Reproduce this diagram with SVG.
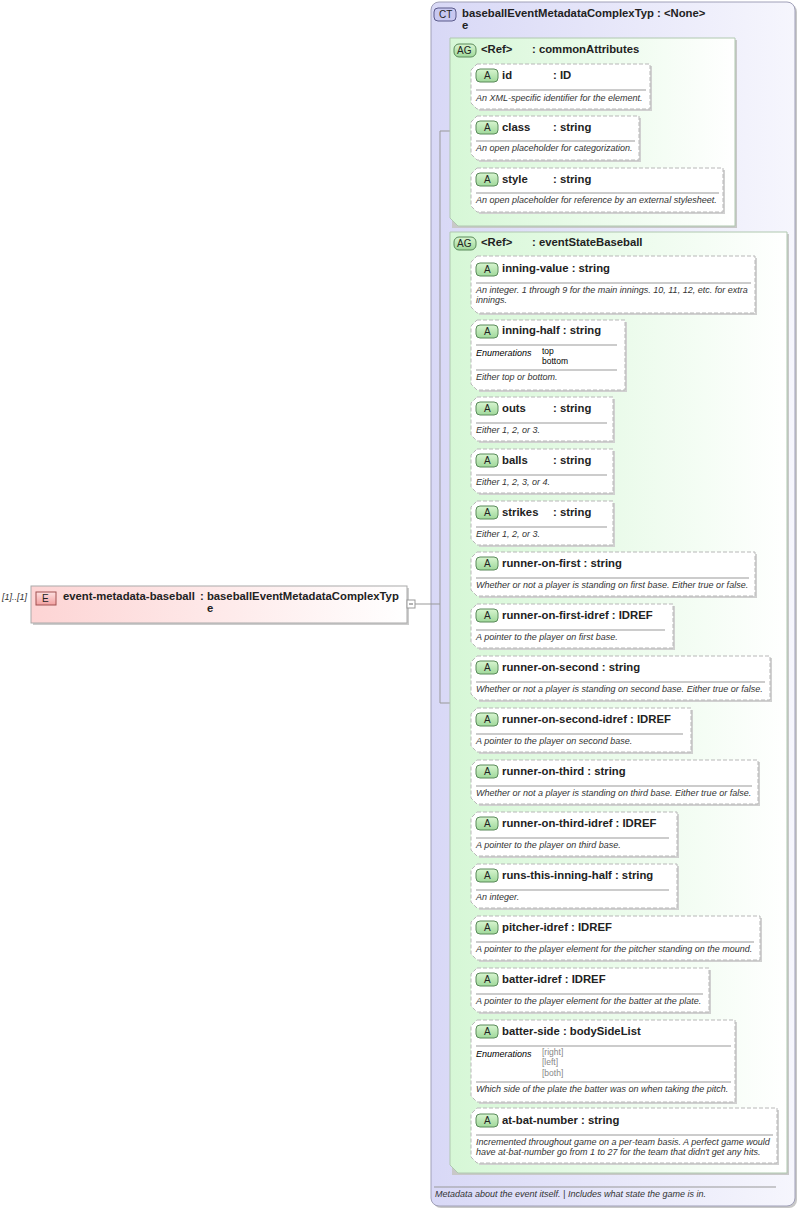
<svg xmlns="http://www.w3.org/2000/svg" width="800" height="1209" viewBox="0 0 800 1209">
<defs>
<linearGradient id="gCT" x1="0" y1="0" x2="1" y2="0"><stop offset="0" stop-color="#d8d8f6"/><stop offset="1" stop-color="#f6f6fd"/></linearGradient>
<linearGradient id="gAG" x1="0" y1="0" x2="1" y2="0"><stop offset="0" stop-color="#d6f7d6"/><stop offset="1" stop-color="#ffffff"/></linearGradient>
<linearGradient id="gE" x1="0" y1="0" x2="1" y2="0"><stop offset="0" stop-color="#fdd4d4"/><stop offset="1" stop-color="#ffffff"/></linearGradient>
<linearGradient id="gA" x1="0" y1="0" x2="0" y2="1"><stop offset="0" stop-color="#d8f5d0"/><stop offset="1" stop-color="#9fd89a"/></linearGradient>
<linearGradient id="gEb" x1="0" y1="0" x2="0" y2="1"><stop offset="0" stop-color="#fde0e0"/><stop offset="1" stop-color="#f2a0a0"/></linearGradient>
</defs>
<style>
text{font-family:"Liberation Sans",Arial,sans-serif;fill:#222}
.b{font-weight:bold;font-size:11.3px}
.d{font-style:italic;font-size:9px;fill:#333}
.en{font-size:8.5px;fill:#000}
.eg{font-size:8.5px;fill:#888}
.badge{font-size:10px;fill:#222}
.card{fill:#fff;stroke:#b8b8b8;stroke-dasharray:4,2;stroke-width:1}
.sh{fill:#d0d0d0}
.sep{stroke:#999;stroke-width:1}
.con{stroke:#999;fill:none;stroke-width:1}
.abadge{fill:url(#gA);stroke:#5a8a5a}
</style>

<g id="ct">
<rect x="433" y="4" width="364" height="1204" rx="8" fill="#c8c8c8"/>
<rect x="431" y="2" width="364" height="1204" rx="8" fill="url(#gCT)" stroke="#a0a0b8"/>
<rect x="434" y="8" width="22" height="13" rx="4" fill="#c8c8f0" stroke="#5a5a8a"/>
<text x="439" y="18" class="badge">CT</text>
<text x="462" y="17" class="b">baseballEventMetadataComplexTyp : &lt;None&gt;</text>
<text x="462" y="29" class="b">e</text>
<line x1="434" y1="1187" x2="776" y2="1187" class="sep"/>
<text x="435" y="1197" class="d">Metadata about the event itself. | Includes what state the game is in.</text>
</g>

<g id="element">
<text x="2" y="600" class="d">[1]..[1]</text>
<rect x="33" y="588" width="376" height="37" fill="#ccc"/>
<rect x="31" y="586" width="376" height="37" fill="url(#gE)" stroke="#aaa"/>
<rect x="36" y="592" width="20" height="13" fill="url(#gEb)" stroke="#a05050"/>
<text x="42" y="602" class="badge">E</text>
<text x="63" y="600" class="b">event-metadata-baseball</text>
<text x="200" y="600" class="b">: baseballEventMetadataComplexTyp</text>
<text x="207" y="612" class="b">e</text>
<rect x="407" y="600" width="8" height="8" fill="#fff" stroke="#999"/>
<line x1="409" y1="604" x2="413" y2="604" stroke="#666"/>
</g>

<g id="connectors">
<path class="con" d="M415 604H440M440 131V703M440 131H450M440 703H450"/>
<path class="con" d="M460 87V189M460 87H471M460 139H471M460 189H471"/>
<path class="con" d="M460 287V1137M460 287H471M460 355H471M460 419H471M460 471H471M460 523H471M460 574H471M460 626H471M460 678H471M460 730H471M460 782H471M460 834H471M460 886H471M460 938H471M460 990H471M460 1061H471M460 1137H471"/>
</g>

<g id="ag-common">
<rect x="452" y="40" width="285" height="188" fill="#c8c8c8"/>
<path d="M450 38H735V226H458L450 218Z" fill="url(#gAG)" stroke="#b0c8b0"/>
<rect x="454" y="44" width="22" height="13" rx="5" fill="url(#gA)" stroke="#5a8a5a"/>
<text x="457" y="54" class="badge">AG</text>
<text x="481" y="53" class="b">&lt;Ref&gt;</text>
<text x="532" y="53" class="b">: commonAttributes</text>
</g>

<g id="ag-event">
<rect x="452" y="234" width="337" height="941" fill="#c8c8c8"/>
<path d="M450 232H787V1173H458L450 1165Z" fill="url(#gAG)" stroke="#b0c8b0"/>
<rect x="454" y="237" width="22" height="13" rx="5" fill="url(#gA)" stroke="#5a8a5a"/>
<text x="457" y="247" class="badge">AG</text>
<text x="481" y="246" class="b">&lt;Ref&gt;</text>
<text x="532" y="246" class="b">: eventStateBaseball</text>
</g>

<g id="a-id"><path class="sh" d="M479 66H652V111H479Z"/><path class="card" d="M477 64H650V109H477L471 103V70Z"/><rect class="abadge" x="476" y="69" width="22" height="13" rx="4"/><text x="484" y="79" class="badge">A</text><text x="502" y="79" class="b">id</text><text x="553" y="79" class="b">: ID</text><line class="sep" x1="476" y1="90" x2="646" y2="90"/><text x="476" y="101" class="d">An XML-specific identifier for the element.</text></g>
<g id="a-class"><path class="sh" d="M479 118H641V162H479Z"/><path class="card" d="M477 116H639V160H477L471 154V122Z"/><rect class="abadge" x="476" y="121" width="22" height="13" rx="4"/><text x="484" y="131" class="badge">A</text><text x="502" y="131" class="b">class</text><text x="553" y="131" class="b">: string</text><line class="sep" x1="476" y1="141" x2="635" y2="141"/><text x="476" y="151" class="d">An open placeholder for categorization.</text></g>
<g id="a-style"><path class="sh" d="M479 170H725V214H479Z"/><path class="card" d="M477 168H723V212H477L471 206V174Z"/><rect class="abadge" x="476" y="173" width="22" height="13" rx="4"/><text x="484" y="183" class="badge">A</text><text x="502" y="183" class="b">style</text><text x="553" y="183" class="b">: string</text><line class="sep" x1="476" y1="193" x2="719" y2="193"/><text x="476" y="203" class="d">An open placeholder for reference by an external stylesheet.</text></g>

<g id="a-inning-value"><path class="sh" d="M479 258H757V315H479Z"/><path class="card" d="M477 256H755V313H477L471 307V262Z"/><rect class="abadge" x="476" y="263" width="22" height="13" rx="4"/><text x="484" y="273" class="badge">A</text><text x="502" y="272" class="b">inning-value : string</text><line class="sep" x1="476" y1="283" x2="751" y2="283"/><text x="476" y="293" class="d">An integer. 1 through 9 for the main innings. 10, 11, 12, etc. for extra</text><text x="476" y="303" class="d">innings.</text></g>
<g id="a-inning-half"><path class="sh" d="M479 322H627V392H479Z"/><path class="card" d="M477 320H625V390H477L471 384V326Z"/><rect class="abadge" x="476" y="325" width="22" height="13" rx="4"/><text x="484" y="335" class="badge">A</text><text x="502" y="334" class="b">inning-half : string</text><line class="sep" x1="476" y1="345" x2="617" y2="345"/><text x="476" y="356" class="d" style="fill:#000">Enumerations</text><text x="542" y="354" class="en">top</text><text x="542" y="364" class="en">bottom</text><line class="sep" x1="476" y1="370" x2="617" y2="370"/><text x="476" y="380" class="d">Either top or bottom.</text></g>
<g id="a-outs"><path class="sh" d="M479 399H615V443H479Z"/><path class="card" d="M477 397H613V441H477L471 435V403Z"/><rect class="abadge" x="476" y="402" width="22" height="13" rx="4"/><text x="484" y="412" class="badge">A</text><text x="502" y="412" class="b">outs</text><text x="553" y="412" class="b">: string</text><line class="sep" x1="476" y1="423" x2="607" y2="423"/><text x="476" y="433" class="d">Either 1, 2, or 3.</text></g>
<g id="a-balls"><path class="sh" d="M479 451H615V495H479Z"/><path class="card" d="M477 449H613V493H477L471 487V455Z"/><rect class="abadge" x="476" y="454" width="22" height="13" rx="4"/><text x="484" y="464" class="badge">A</text><text x="502" y="464" class="b">balls</text><text x="553" y="464" class="b">: string</text><line class="sep" x1="476" y1="475" x2="607" y2="475"/><text x="476" y="485" class="d">Either 1, 2, 3, or 4.</text></g>
<g id="a-strikes"><path class="sh" d="M479 503H615V547H479Z"/><path class="card" d="M477 501H613V545H477L471 539V507Z"/><rect class="abadge" x="476" y="506" width="22" height="13" rx="4"/><text x="484" y="516" class="badge">A</text><text x="502" y="516" class="b">strikes</text><text x="553" y="516" class="b">: string</text><line class="sep" x1="476" y1="527" x2="607" y2="527"/><text x="476" y="537" class="d">Either 1, 2, or 3.</text></g>
<g id="a-runner-on-first"><path class="sh" d="M479 554H757V598H479Z"/><path class="card" d="M477 552H755V596H477L471 590V558Z"/><rect class="abadge" x="476" y="557" width="22" height="13" rx="4"/><text x="484" y="567" class="badge">A</text><text x="502" y="567" class="b">runner-on-first : string</text><line class="sep" x1="476" y1="578" x2="749" y2="578"/><text x="476" y="588" class="d">Whether or not a player is standing on first base. Either true or false.</text></g>
<g id="a-runner-on-first-idref"><path class="sh" d="M479 606H675V650H479Z"/><path class="card" d="M477 604H673V648H477L471 642V610Z"/><rect class="abadge" x="476" y="609" width="22" height="13" rx="4"/><text x="484" y="619" class="badge">A</text><text x="502" y="619" class="b">runner-on-first-idref : IDREF</text><line class="sep" x1="476" y1="630" x2="665" y2="630"/><text x="476" y="640" class="d">A pointer to the player on first base.</text></g>
<g id="a-runner-on-second"><path class="sh" d="M479 658H772V702H479Z"/><path class="card" d="M477 656H770V700H477L471 694V662Z"/><rect class="abadge" x="476" y="661" width="22" height="13" rx="4"/><text x="484" y="671" class="badge">A</text><text x="502" y="671" class="b">runner-on-second : string</text><line class="sep" x1="476" y1="682" x2="765" y2="682"/><text x="476" y="692" class="d">Whether or not a player is standing on second base. Either true or false.</text></g>
<g id="a-runner-on-second-idref"><path class="sh" d="M479 710H693V754H479Z"/><path class="card" d="M477 708H691V752H477L471 746V714Z"/><rect class="abadge" x="476" y="713" width="22" height="13" rx="4"/><text x="484" y="723" class="badge">A</text><text x="502" y="723" class="b">runner-on-second-idref : IDREF</text><line class="sep" x1="476" y1="734" x2="683" y2="734"/><text x="476" y="744" class="d">A pointer to the player on second base.</text></g>
<g id="a-runner-on-third"><path class="sh" d="M479 762H760V806H479Z"/><path class="card" d="M477 760H758V804H477L471 798V766Z"/><rect class="abadge" x="476" y="765" width="22" height="13" rx="4"/><text x="484" y="775" class="badge">A</text><text x="502" y="775" class="b">runner-on-third : string</text><line class="sep" x1="476" y1="786" x2="752" y2="786"/><text x="476" y="796" class="d">Whether or not a player is standing on third base. Either true or false.</text></g>
<g id="a-runner-on-third-idref"><path class="sh" d="M479 814H679V858H479Z"/><path class="card" d="M477 812H677V856H477L471 850V818Z"/><rect class="abadge" x="476" y="817" width="22" height="13" rx="4"/><text x="484" y="827" class="badge">A</text><text x="502" y="827" class="b">runner-on-third-idref : IDREF</text><line class="sep" x1="476" y1="838" x2="669" y2="838"/><text x="476" y="848" class="d">A pointer to the player on third base.</text></g>
<g id="a-runs-this-inning-half"><path class="sh" d="M479 866H679V910H479Z"/><path class="card" d="M477 864H677V908H477L471 902V870Z"/><rect class="abadge" x="476" y="869" width="22" height="13" rx="4"/><text x="484" y="879" class="badge">A</text><text x="502" y="879" class="b">runs-this-inning-half : string</text><line class="sep" x1="476" y1="890" x2="669" y2="890"/><text x="476" y="900" class="d">An integer.</text></g>
<g id="a-pitcher-idref"><path class="sh" d="M479 918H762V962H479Z"/><path class="card" d="M477 916H760V960H477L471 954V922Z"/><rect class="abadge" x="476" y="921" width="22" height="13" rx="4"/><text x="484" y="931" class="badge">A</text><text x="502" y="931" class="b">pitcher-idref : IDREF</text><line class="sep" x1="476" y1="942" x2="754" y2="942"/><text x="476" y="952" class="d">A pointer to the player element for the pitcher standing on the mound.</text></g>
<g id="a-batter-idref"><path class="sh" d="M479 970H711V1014H479Z"/><path class="card" d="M477 968H709V1012H477L471 1006V974Z"/><rect class="abadge" x="476" y="973" width="22" height="13" rx="4"/><text x="484" y="983" class="badge">A</text><text x="502" y="983" class="b">batter-idref : IDREF</text><line class="sep" x1="476" y1="994" x2="703" y2="994"/><text x="476" y="1004" class="d">A pointer to the player element for the batter at the plate.</text></g>
<g id="a-batter-side"><path class="sh" d="M479 1022H737V1104H479Z"/><path class="card" d="M477 1020H735V1102H477L471 1096V1026Z"/><rect class="abadge" x="476" y="1025" width="22" height="13" rx="4"/><text x="484" y="1035" class="badge">A</text><text x="502" y="1035" class="b">batter-side : bodySideList</text><line class="sep" x1="476" y1="1046" x2="731" y2="1046"/><text x="476" y="1057" class="d" style="fill:#000">Enumerations</text><text x="542" y="1055" class="eg">[right]</text><text x="542" y="1065" class="eg">[left]</text><text x="542" y="1076" class="eg">[both]</text><line class="sep" x1="476" y1="1082" x2="731" y2="1082"/><text x="476" y="1092" class="d">Which side of the plate the batter was on when taking the pitch.</text></g>
<g id="a-at-bat-number"><path class="sh" d="M479 1110H779V1165H479Z"/><path class="card" d="M477 1108H777V1163H477L471 1157V1114Z"/><rect class="abadge" x="476" y="1114" width="22" height="13" rx="4"/><text x="484" y="1124" class="badge">A</text><text x="502" y="1124" class="b">at-bat-number : string</text><line class="sep" x1="476" y1="1135" x2="773" y2="1135"/><text x="476" y="1145" class="d">Incremented throughout game on a per-team basis. A perfect game would</text><text x="476" y="1155" class="d">have at-bat-number go from 1 to 27 for the team that didn't get any hits.</text></g>
</svg>
